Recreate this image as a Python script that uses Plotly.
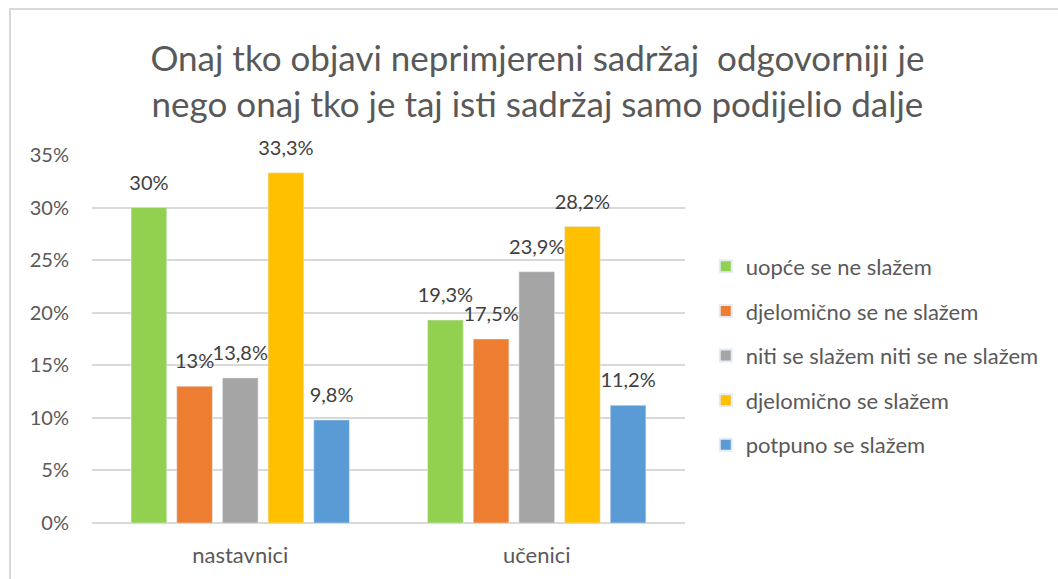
import plotly.graph_objects as go

categories = ["nastavnici", "učenici"]
series_names = ["uopće se ne slažem", "djelomično se ne slažem", "niti se slažem niti se ne slažem",
                "djelomično se slažem", "potpuno se slažem"]
series_values = [
    [0.30, 0.193],
    [0.13, 0.175],
    [0.138, 0.239],
    [0.333, 0.282],
    [0.098, 0.112],
]
series_labels = [
    ["30%", "19,3%"],
    ["13%", "17,5%"],
    ["13,8%", "23,9%"],
    ["33,3%", "28,2%"],
    ["9,8%", "11,2%"],
]
colors = ["#92d050", "#ed7d31", "#a5a5a5", "#ffc000", "#5b9bd5"]
y_ticks = [0, 0.05, 0.10, 0.15, 0.20, 0.25, 0.30, 0.35]
y_tick_text = ["0%", "5%", "10%", "15%", "20%", "25%", "30%", "35%"]
title_text = "Onaj tko objavi neprimjereni sadržaj  odgovorniji je<br>nego onaj tko je taj isti sadržaj samo podijelio dalje"

FONT = "Lato, 'Open Sans', sans-serif"
fig = go.Figure()
for i, (name, vals, col) in enumerate(zip(series_names, series_values, colors)):
    fig.add_trace(go.Bar(
        x=categories, y=vals, name=name, marker_color=col,
        legendgroup=f"g{i}", offsetgroup=f"g{i}",
    ))
for i, (vals, labs) in enumerate(zip(series_values, series_labels)):
    fig.add_trace(go.Scatter(
        x=categories, y=vals, mode="markers+text", text=labs,
        textposition="top center", offsetgroup=f"g{i}", showlegend=False,
        marker=dict(size=19, opacity=0), hoverinfo="skip", cliponaxis=False,
        textfont=dict(size=20, color="#404040", family=FONT),
    ))

W, H = 1058, 579
L, R, T, B = 92, 373, 155, 56
pw, ph = W - L - R, H - T - B

fig.update_layout(
    width=W, height=H,
    margin=dict(l=L, r=R, t=T, b=B, autoexpand=False),
    paper_bgcolor="white", plot_bgcolor="white",
    barmode="group", bargap=0.23, bargroupgap=0.22,
    scattermode="group", scattergap=0.23,
    font=dict(family=FONT, color="#595959"),
    title=dict(text=title_text, x=0.508, xanchor="center", y=0.877, yanchor="top",
               font=dict(size=35, color="#595959", family=FONT)),
    legend=dict(x=1.035, xanchor="left", y=0.754, yanchor="top",
                font=dict(size=22, color="#595959", family=FONT),
                tracegroupgap=13, itemsizing="constant", traceorder="grouped",
                bgcolor="rgba(0,0,0,0)"),
    xaxis=dict(showgrid=False, showline=False, ticks="", ticklabelstandoff=17,
               tickfont=dict(size=22, color="#595959", family=FONT)),
    yaxis=dict(range=[0, 0.35], tickvals=y_ticks, ticktext=y_tick_text,
               showgrid=True, gridcolor="#d9d9d9", gridwidth=1.5,
               zeroline=True, zerolinecolor="#d9d9d9", zerolinewidth=1.5,
               showline=False, ticks="", ticklabelstandoff=22,
               tickfont=dict(size=20, color="#595959", family=FONT)),
    showlegend=True,
)

# outer chart frame
fig.add_shape(type="rect", xref="paper", yref="paper",
              x0=(10 - L) / pw, x1=(W + 20 - L) / pw,
              y0=-(B + 20) / ph, y1=1 + (T - 9) / ph,
              line=dict(color="#d9d9d9", width=2), fillcolor="rgba(0,0,0,0)", layer="below")

fig.write_html("out.html", config={"displayModeBar": False},
               post_script="document.body.style.margin='0';")
